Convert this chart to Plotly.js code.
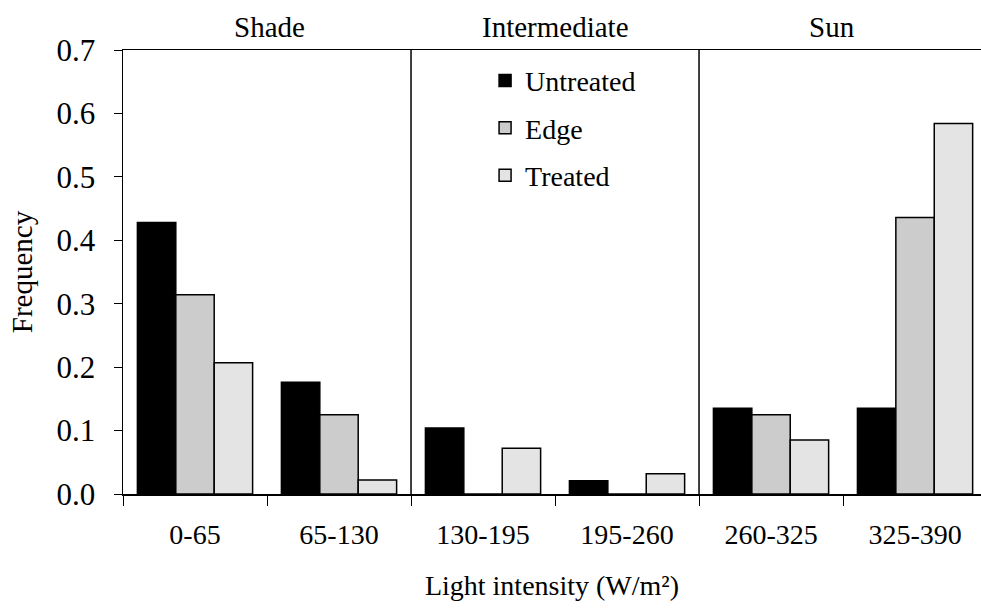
<!DOCTYPE html>
<html>
<head>
<meta charset="utf-8">
<script src="https://cdn.plot.ly/plotly-3.0.1.min.js"></script>
<style>
html,body{margin:0;padding:0;background:#fff;}
#chart{width:981px;height:608px;}
</style>
</head>
<body>
<div id="chart"></div>
<script>
const categories = ["0-65", "65-130", "130-195", "195-260", "260-325", "325-390"];
const untreated = [0.428, 0.176, 0.104, 0.021, 0.135, 0.135];
const edge      = [0.314, 0.125, 0.0,   0.0,   0.125, 0.436];
const treated   = [0.207, 0.022, 0.072, 0.032, 0.085, 0.584];
const seriesNames = ["Untreated", "Edge", "Treated"];
const groupLabels = ["Shade", "Intermediate", "Sun"];
const groupCenters = [0.52, 2.5, 4.42];
const dividers = [1.5, 3.5];

const FONT = "Liberation Serif";
const colors = ["#000000", "#cccccc", "#e4e4e4"];
const seriesValues = [untreated, edge, treated];

const traces = seriesValues.map((vals, i) => ({
  type: "bar",
  name: seriesNames[i],
  x: categories,
  y: vals,
  legendgroup: "g" + i,
  marker: {color: colors[i], line: {color: "#000", width: 1.5}},
  hoverinfo: "x+y+name"
}));

const layout = {
  width: 981, height: 608,
  margin: {l: 123, r: 0, t: 50, b: 114},
  paper_bgcolor: "#fff", plot_bgcolor: "#fff",
  font: {family: FONT, color: "#000", size: 28},
  barmode: "group",
  bargap: 0.2,
  bargroupgap: 0,
  showlegend: true,
  legend: {
    x: 0.422, y: 0.987, xanchor: "left", yanchor: "top",
    bgcolor: "rgba(0,0,0,0)", borderwidth: 0,
    font: {family: FONT, size: 28, color: "#000"},
    tracegroupgap: 8
  },
  xaxis: {
    type: "category",
    range: [-0.5, 5.458],
    showline: true, linecolor: "#000", linewidth: 1.5,
    mirror: true,
    ticks: "outside", tickson: "boundaries", ticklen: 10, tickcolor: "#000", tickwidth: 1,
    tickfont: {family: FONT, size: 28, color: "#000"},
    ticklabelstandoff: 15,
    showgrid: false, zeroline: false,
    title: {text: "Light intensity (W/m²)", font: {family: FONT, size: 28, color: "#000"}, standoff: 26}
  },
  yaxis: {
    range: [0, 0.7],
    dtick: 0.1, tick0: 0, tickformat: ".1f",
    showline: true, linecolor: "#000", linewidth: 1.5,
    ticks: "outside", ticklen: 8, tickcolor: "#000", tickwidth: 1,
    tickfont: {family: FONT, size: 31, color: "#000"},
    ticklabelstandoff: 12,
    showgrid: false, zeroline: false,
    title: {text: "Frequency", font: {family: FONT, size: 29, color: "#000"}, standoff: 15}
  },
  shapes: dividers.map(d => ({
    type: "line", xref: "x", yref: "paper", x0: d, x1: d, y0: 0, y1: 1,
    line: {color: "#000", width: 1.5}
  })),
  annotations: groupLabels.map((t, i) => ({
    text: t, xref: "x", yref: "paper", x: groupCenters[i], y: 1,
    xanchor: "center", yanchor: "bottom", yshift: 5, showarrow: false,
    font: {family: FONT, size: 29, color: "#000"}
  }))
};

Plotly.newPlot("chart", traces, layout, {displayModeBar: false, staticPlot: true});
</script>
</body>
</html>
